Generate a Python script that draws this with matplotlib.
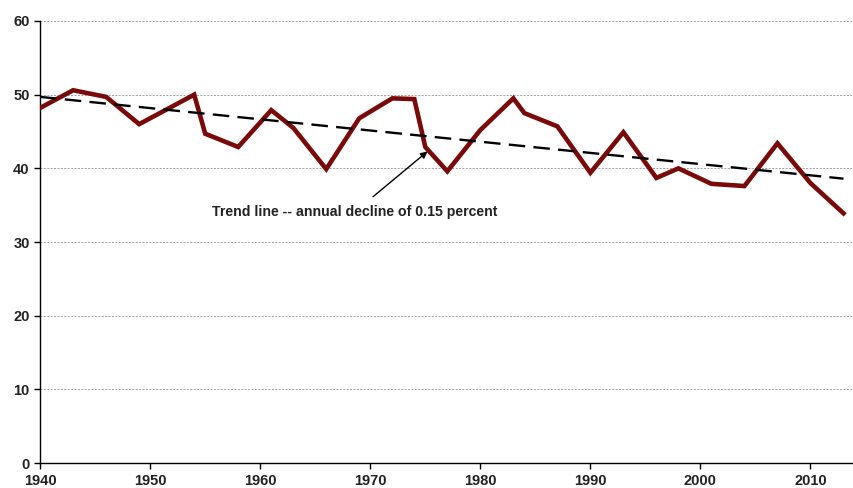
import numpy as np
import matplotlib
matplotlib.use("Agg")
import matplotlib.pyplot as plt

plt.rcParams['font.family'] = ['Liberation Sans', 'DejaVu Sans']

years = [1940, 1943, 1946, 1949, 1954, 1955, 1958, 1961, 1963, 1966, 1969, 1972, 1974,
         1975, 1977, 1980, 1983, 1984, 1987, 1990, 1993, 1996, 1998, 2001, 2004, 2007,
         2010, 2013]
values = [48.2, 50.6, 49.7, 46.0, 50.0, 44.7, 42.9, 47.9, 45.5, 39.9, 46.8, 49.5, 49.4,
          42.9, 39.6, 45.2, 49.5, 47.5, 45.7, 39.4, 44.9, 38.7, 40.0, 37.9, 37.6, 43.4,
          38.0, 33.9]
trend_years = [1940, 2013]
trend_values = [49.7, 38.6]
yticks = [0, 10, 20, 30, 40, 50, 60]
xticks = [1940, 1950, 1960, 1970, 1980, 1990, 2000, 2010]

fig = plt.figure(figsize=(8.54, 4.88), dpi=100)
ax = fig.add_axes([0.047, 0.051, 0.951, 0.906])

ax.plot(years, values, color='#7a0a0a', linewidth=3.3, solid_joinstyle='miter', zorder=3)
ax.plot(trend_years, trend_values, color='black', linewidth=1.7, dashes=(7, 3.5), zorder=4)

ax.set_xlim(1940, 2013.8)
ax.set_ylim(0, 60)
ax.set_xticks(xticks)
ax.set_yticks(yticks)
ax.grid(axis='y', color='#a0a0a0', linestyle=(0, (2, 1.5)), linewidth=0.7)
ax.set_axisbelow(True)
for s in ['top', 'right']:
    ax.spines[s].set_visible(False)
ax.spines['left'].set_linewidth(1.0)
ax.spines['bottom'].set_linewidth(1.0)
ax.tick_params(axis='both', direction='out', length=4, width=1, labelsize=10.5, colors='#222222')
ax.tick_params(axis='both', color='black')
for lab in ax.get_xticklabels() + ax.get_yticklabels():
    lab.set_fontweight('bold')

ax.annotate('Trend line -- annual decline of 0.15 percent', xy=(1975.2, 42.3), xytext=(1968.6, 34.1),
            ha='center', va='center', fontsize=10.2, fontweight='bold', color='#222222',
            arrowprops=dict(arrowstyle='-|>', color='black', lw=1, shrinkA=6, shrinkB=0,
                            mutation_scale=10))

fig.savefig('out.png', dpi=100)
